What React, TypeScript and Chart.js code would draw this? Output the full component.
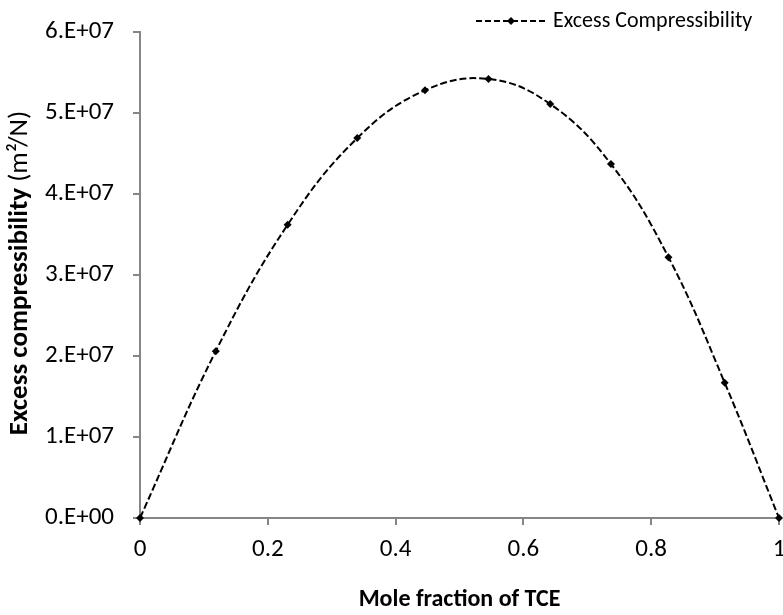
import React, { useEffect, useRef } from "react";
import { Chart, registerables } from "chart.js";

Chart.register(...registerables);

const moleFraction = [0, 0.1186, 0.231, 0.34, 0.446, 0.5454, 0.642, 0.737, 0.827, 0.915, 1];
const excessCompressibility = [0, 2.06e7, 3.62e7, 4.69e7, 5.28e7, 5.42e7, 5.11e7, 4.37e7, 3.22e7, 1.67e7, 0];
const xTickLabels = ["0", "0.2", "0.4", "0.6", "0.8", "1"];
const yTickLabels = ["0.E+00", "1.E+07", "2.E+07", "3.E+07", "4.E+07", "5.E+07", "6.E+07"];
const seriesName = "Excess Compressibility";
const xTitle = "Mole fraction of TCE";
const yTitleBold = "Excess compressibility";
const yTitleUnit = "(m²/N)";

const FONT = "Carlito, Calibri, Lato, sans-serif";
const AXIS = "#868686";
const TICK_SIZE = 25;
const TITLE_SIZE = 24;
const YTITLE_SIZE = 27;
const LEGEND_SIZE = 22;

const yTitlePlugin = {
  id: "yTitlePlugin",
  afterDraw(chart: any) {
    const { ctx, chartArea } = chart;
    ctx.save();
    const cy = (chartArea.top + chartArea.bottom) / 2 - 2;
    ctx.translate(20, cy);
    ctx.rotate(-Math.PI / 2);
    ctx.textBaseline = "middle";
    ctx.textAlign = "left";
    ctx.fillStyle = "#000";
    const boldFont = `bold ${YTITLE_SIZE}px ${FONT}`;
    const normFont = `${YTITLE_SIZE}px ${FONT}`;
    ctx.font = boldFont;
    const wb = ctx.measureText(yTitleBold + " ").width;
    ctx.font = normFont;
    const wn = ctx.measureText(yTitleUnit).width;
    const start = -(wb + wn) / 2;
    ctx.font = boldFont;
    ctx.fillText(yTitleBold + " ", start, 0);
    ctx.font = normFont;
    ctx.fillText(yTitleUnit, start + wb, 0);
    ctx.restore();
  },
};

const legendPlugin = {
  id: "legendPlugin",
  afterDraw(chart: any) {
    const { ctx } = chart;
    const y = 21;
    const x1 = 476;
    const x2 = 546;
    ctx.save();
    ctx.strokeStyle = "#000";
    ctx.lineWidth = 2;
    ctx.setLineDash([6, 3]);
    ctx.beginPath();
    ctx.moveTo(x1, y);
    ctx.lineTo(x2, y);
    ctx.stroke();
    ctx.setLineDash([]);
    const cx = (x1 + x2) / 2;
    ctx.fillStyle = "#000";
    ctx.beginPath();
    ctx.moveTo(cx, y - 4);
    ctx.lineTo(cx + 4, y);
    ctx.lineTo(cx, y + 4);
    ctx.lineTo(cx - 4, y);
    ctx.closePath();
    ctx.fill();
    ctx.font = `${LEGEND_SIZE}px ${FONT}`;
    ctx.textBaseline = "middle";
    ctx.textAlign = "left";
    ctx.fillText(seriesName, x2 + 7, y);
    ctx.restore();
  },
};

export default function App() {
  const ref = useRef<HTMLCanvasElement | null>(null);

  useEffect(() => {
    document.body.style.margin = "0";
    const canvas = ref.current;
    if (!canvas) return;
    const data = moleFraction.map((x, i) => ({ x, y: excessCompressibility[i] }));
    const chart = new Chart(canvas, {
      type: "scatter",
      data: {
        datasets: [
          {
            label: seriesName,
            data,
            showLine: true,
            borderColor: "#000",
            backgroundColor: "#000",
            borderWidth: 2,
            borderDash: [7, 3],
            tension: 0.4,
            pointStyle: "rectRot",
            pointRadius: 4,
            pointBorderWidth: 0,
            clip: false,
          } as any,
        ],
      },
      options: {
        responsive: false,
        animation: false,
        layout: { padding: { top: 32, right: 1, left: 0, bottom: 0 } },
        plugins: {
          legend: { display: false },
          tooltip: { enabled: false },
        },
        scales: {
          x: {
            type: "linear",
            position: "bottom",
            min: 0,
            max: 1,
            afterBuildTicks: (s: any) => {
              s.ticks = xTickLabels.map((_, i) => ({ value: i * 0.2 }));
            },
            ticks: {
              callback: (_v: any, i: number) => xTickLabels[i],
              font: { family: FONT, size: TICK_SIZE },
              color: "#000",
              padding: 10,
              maxRotation: 0,
              autoSkip: false,
            },
            grid: { drawOnChartArea: false, drawTicks: true, tickLength: 7, color: AXIS, lineWidth: 2 },
            border: { display: true, color: AXIS, width: 2 },
            title: {
              display: true,
              text: xTitle,
              font: { family: FONT, size: TITLE_SIZE, weight: "bold" },
              color: "#000",
              padding: { top: 0, bottom: 1 },
            },
            afterFit: (s: any) => {
              s.height = 97;
              s.paddingLeft = 0;
              s.paddingRight = 0;
            },
          },
          y: {
            type: "linear",
            min: 0,
            max: 6e7,
            afterBuildTicks: (s: any) => {
              s.ticks = yTickLabels.map((_, i) => ({ value: i * 1e7 }));
            },
            ticks: {
              callback: (_v: any, i: number) => yTickLabels[i],
              font: { family: FONT, size: TICK_SIZE },
              color: "#000",
              padding: 19,
              autoSkip: false,
            },
            grid: { drawOnChartArea: false, drawTicks: true, tickLength: 7, color: AXIS, lineWidth: 2 },
            border: { display: true, color: AXIS, width: 2 },
            afterFit: (s: any) => {
              s.width = 140;
              s.paddingTop = 0;
              s.paddingBottom = 0;
            },
          },
        },
      },
      plugins: [yTitlePlugin, legendPlugin],
    });
    return () => chart.destroy();
  }, []);

  return (
    <div style={{ width: 783, height: 615 }}>
      <canvas ref={ref} width={783} height={615} />
    </div>
  );
}
